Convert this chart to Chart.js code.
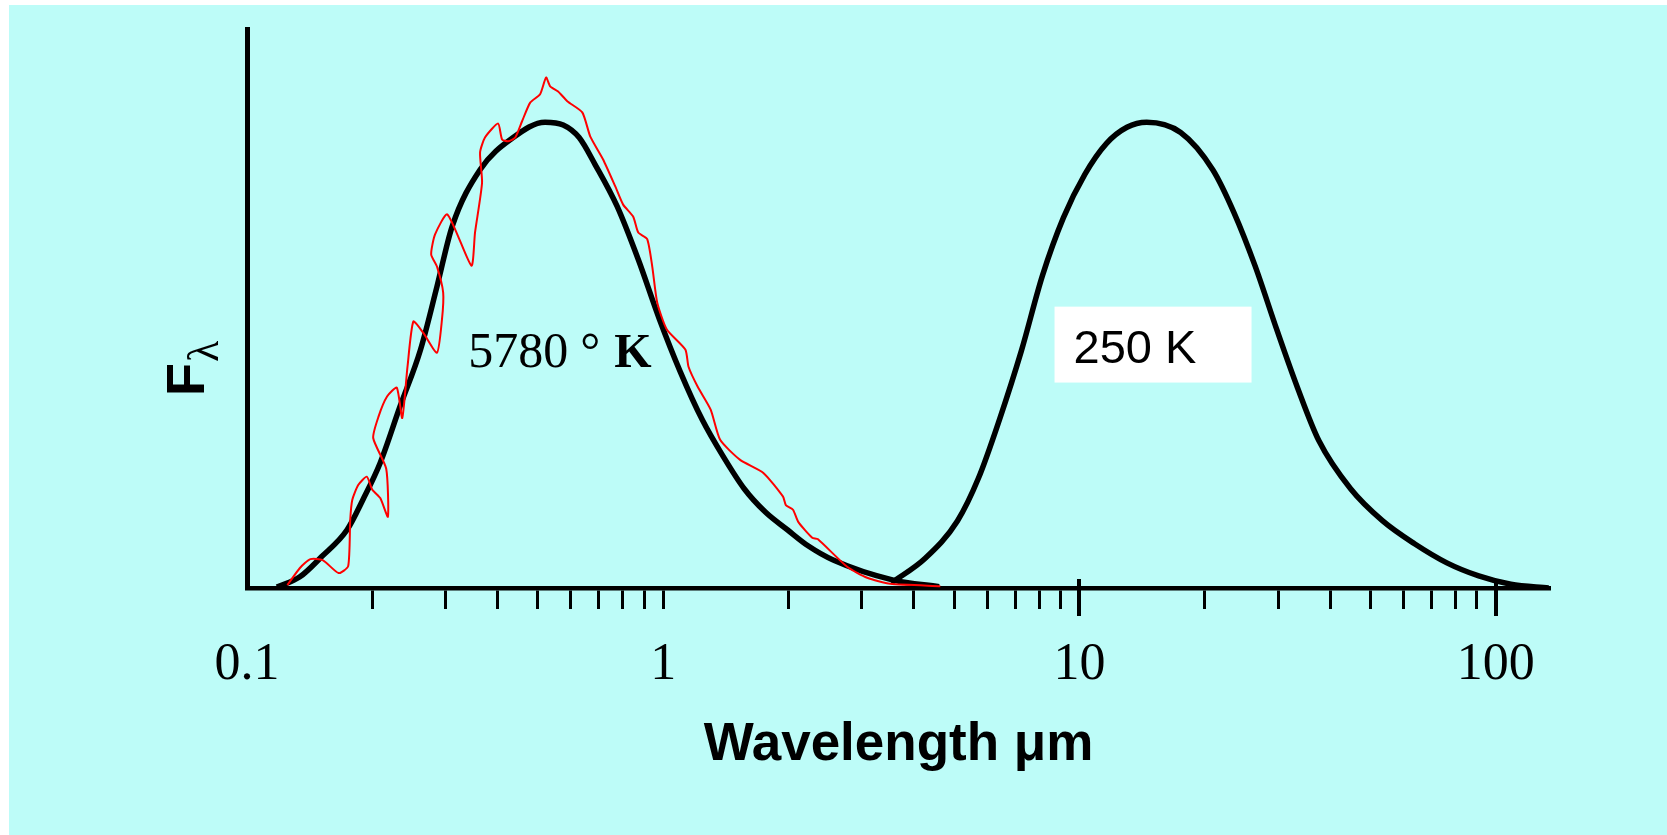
<!DOCTYPE html>
<html>
<head>
<meta charset="utf-8">
<title>Blackbody spectra</title>
<script src="https://cdn.jsdelivr.net/npm/chart.js@4.4.0/dist/chart.umd.min.js"></script>
<style>
  html, body { margin: 0; padding: 0; background: #ffffff; }
  canvas { display: block; }
</style>
</head>
<body>
<canvas id="spectrumChart" width="1667" height="835"></canvas>
<script>
// wavelength in um, flux scaled so both blackbody peaks sit at 100
const sunWavelength = [0.118, 0.134, 0.151, 0.174, 0.19, 0.209, 0.233, 0.261, 0.286, 0.311,
  0.363, 0.436, 0.52, 0.575, 0.628, 0.686, 0.775, 0.871, 0.978, 1.099,
  1.241, 1.394, 1.565, 1.759, 1.987, 2.232, 2.56, 3.57, 4.6];
const sunFlux = [0.2, 2.4, 6.7, 12.5, 19.0, 26.9, 38.9, 51.1, 64.7, 77.6,
  89.8, 96.7, 100, 99.4, 96.7, 90.9, 81.9, 70.5, 57.8, 46.4,
  36.1, 28.2, 21.3, 16.3, 12.5, 9.0, 6.0, 1.7, 0.3];

// measured solar spectrum (goes back on itself in places)
const solarWavelength = [0.125, 0.134, 0.142, 0.152, 0.166, 0.175, 0.177, 0.179, 0.185, 0.194,
  0.200, 0.209, 0.218, 0.216, 0.201, 0.207, 0.217, 0.229, 0.236, 0.243,
  0.251, 0.265, 0.286, 0.294, 0.296, 0.286, 0.277, 0.283, 0.303, 0.346,
  0.353, 0.367, 0.363, 0.373, 0.401, 0.410, 0.424, 0.441, 0.458, 0.479,
  0.506, 0.523, 0.535, 0.559, 0.588, 0.639, 0.668, 0.717, 0.767, 0.801,
  0.847, 0.871, 0.915, 0.941, 0.967, 1.02, 1.13, 1.15, 1.21, 1.30,
  1.37, 1.53, 1.74, 1.94, 1.97, 2.05, 2.11, 2.28, 2.35, 2.77,
  3.09, 3.51, 4.63];
const solarFlux = [0.6, 4.3, 6.2, 6.0, 3.2, 4.7, 14.6, 18.9, 22.1, 23.9,
  21.1, 19.3, 15.3, 25.6, 32.2, 36.8, 41.1, 43.0, 36.5, 47.5,
  57.2, 54.8, 50.5, 57.6, 63.4, 69.0, 71.6, 75.9, 80.2, 69.2,
  76.3, 87.0, 93.5, 96.7, 99.7, 96.3, 95.9, 96.7, 100.2, 104.2,
  106.0, 109.6, 107.7, 106.6, 104.5, 102.1, 96.9, 92.0, 86.2, 82.3,
  79.7, 76.3, 74.9, 69.0, 61.3, 55.5, 51.2, 47.5, 43.2, 38.3,
  31.8, 27.5, 24.7, 19.6, 17.8, 16.8, 14.2, 10.8, 10.5, 4.5,
  2.2, 0.9, 0.4];

const earthWavelength = [3.53, 4.26, 5.09, 5.72, 6.42, 7.25, 8.15, 9.15, 10.3, 11.6,
  13.0, 14.5, 17.5, 20.9, 23.5, 26.4, 29.8, 33.4, 37.6, 44.8,
  53.5, 63.8, 76.3, 91.0, 108.7, 134];
const earthFlux = [1.1, 6.4, 14.4, 23.6, 36.1, 50.9, 67.1, 79.5, 88.8, 95.4,
  98.9, 100, 97.8, 89.8, 80.6, 69.2, 55.4, 43.0, 31.6, 21.3,
  14.4, 9.5, 5.4, 2.6, 0.8, 0];

const tickValues = [0.1, 0.2, 0.3, 0.4, 0.5, 0.6, 0.7, 0.8, 0.9,
  1, 2, 3, 4, 5, 6, 7, 8, 9,
  10, 20, 30, 40, 50, 60, 70, 80, 90, 100];
const labeledTicks = [0.1, 1, 10, 100];
const tickLabels = ['0.1', '1', '10', '100'];
const majorTicks = [10, 100];

function toPoints(xs, ys) {
  return xs.map((v, i) => ({ x: v, y: ys[i] }));
}

const SERIF = "'Liberation Serif', 'Times New Roman', serif";
const SANS = "'Liberation Sans', Arial, sans-serif";

const background = {
  id: 'background',
  beforeDraw(chart) {
    const ctx = chart.ctx;
    ctx.save();
    ctx.fillStyle = '#ffffff';
    ctx.fillRect(0, 0, chart.width, chart.height);
    ctx.fillStyle = '#bdfcf8';
    ctx.fillRect(9, 5, chart.width - 9, chart.height - 5);
    ctx.restore();
  }
};

const annotations = {
  id: 'annotations',
  afterDraw(chart) {
    const { ctx, chartArea } = chart;
    const xs = chart.scales.x;
    const ys = chart.scales.y;
    ctx.save();
    ctx.fillStyle = '#000000';
    ctx.strokeStyle = '#000000';

    // the decade ticks poke through the axis
    ctx.lineWidth = 4;
    majorTicks.forEach(v => {
      const px = Math.round(xs.getPixelForValue(v));
      ctx.beginPath();
      ctx.moveTo(px, chartArea.bottom - 9);
      ctx.lineTo(px, chartArea.bottom + 28);
      ctx.stroke();
    });

    // F lambda axis title
    ctx.save();
    ctx.translate(chartArea.left - 43, chartArea.top + 367);
    ctx.rotate(-Math.PI / 2);
    ctx.textBaseline = 'alphabetic';
    ctx.textAlign = 'left';
    ctx.font = 'bold 54px ' + SANS;
    ctx.fillText('F', 0, 0);
    const fw = ctx.measureText('F').width;
    ctx.font = '44px ' + SERIF;
    ctx.fillText('λ', fw + 1, 14);
    ctx.restore();

    // 5780 K label
    ctx.textBaseline = 'alphabetic';
    ctx.textAlign = 'left';
    const sx = xs.getPixelForValue(0.34);
    const sy = ys.getPixelForValue(47.5);
    ctx.font = '50px ' + SERIF;
    ctx.fillText('5780', sx, sy);
    ctx.fillText('°', sx + 112, sy);
    ctx.font = 'bold 48px ' + SERIF;
    ctx.fillText('K', sx + 146, sy);

    // 250 K label on a white box
    const bl = xs.getPixelForValue(8.71);
    const br = xs.getPixelForValue(25.9);
    const bt = ys.getPixelForValue(60.4);
    const bb = ys.getPixelForValue(44.1);
    ctx.fillStyle = '#ffffff';
    ctx.fillRect(bl, bt, br - bl, bb - bt);
    ctx.fillStyle = '#000000';
    ctx.font = '47px ' + SANS;
    ctx.fillText('250 K', bl + 19, bb - 20);
    ctx.restore();
  }
};

new Chart(document.getElementById('spectrumChart'), {
  type: 'scatter',
  data: {
    datasets: [
      {
        label: 'Solar spectrum',
        data: toPoints(solarWavelength, solarFlux),
        showLine: true,
        borderColor: '#ff0000',
        borderWidth: 2,
        tension: 0.2,
        pointRadius: 0,
        order: 0
      },
      {
        label: '5780 K',
        data: toPoints(sunWavelength, sunFlux),
        showLine: true,
        borderColor: '#000000',
        borderWidth: 5.5,
        cubicInterpolationMode: 'monotone',
        pointRadius: 0,
        order: 1
      },
      {
        label: '250 K',
        data: toPoints(earthWavelength, earthFlux),
        showLine: true,
        borderColor: '#000000',
        borderWidth: 5.5,
        cubicInterpolationMode: 'monotone',
        pointRadius: 0,
        order: 1
      }
    ]
  },
  options: {
    responsive: false,
    animation: false,
    devicePixelRatio: 1,
    layout: {
      padding: { left: 247, right: 117, top: 29, bottom: 0 }
    },
    plugins: {
      legend: { display: false },
      tooltip: { enabled: false }
    },
    scales: {
      x: {
        type: 'logarithmic',
        min: 0.1,
        max: 135,
        afterBuildTicks: (scale) => {
          scale.ticks = tickValues.map(v => ({ value: v }));
        },
        afterFit: (scale) => {
          scale.height = 247;
        },
        border: { display: true, color: '#000000', width: 4.5 },
        grid: {
          display: true,
          drawOnChartArea: false,
          drawTicks: true,
          tickLength: 21,
          tickWidth: 3,
          tickColor: (ctx) => (ctx.tick && ctx.tick.value === 0.1 ? 'rgba(0,0,0,0)' : '#000000')
        },
        ticks: {
          autoSkip: false,
          maxRotation: 0,
          padding: 25,
          color: '#000000',
          font: { family: SERIF, size: 52 },
          callback: (value) => {
            const i = labeledTicks.indexOf(value);
            return i >= 0 ? tickLabels[i] : '';
          }
        },
        title: {
          display: true,
          text: 'Wavelength μm',
          color: '#000000',
          font: { family: SANS, size: 53, weight: 'bold' },
          padding: { top: 0, bottom: 58 }
        }
      },
      y: {
        min: 0,
        max: 120,
        afterFit: (scale) => {
          scale.width = 0;
        },
        border: { display: true, color: '#000000', width: 5 },
        grid: { display: false, drawTicks: false },
        ticks: { display: false }
      }
    }
  },
  plugins: [background, annotations]
});
</script>
</body>
</html>
